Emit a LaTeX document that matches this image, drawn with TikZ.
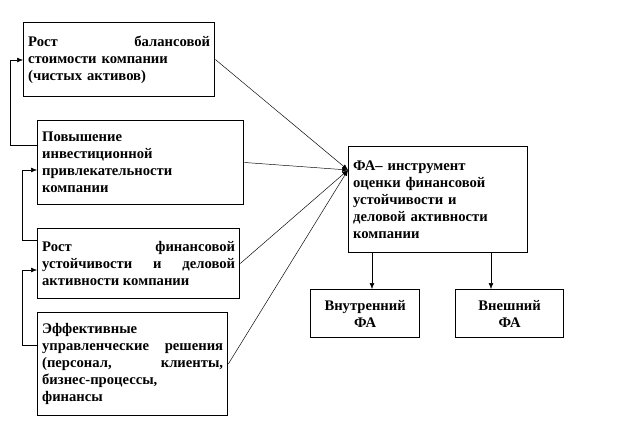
\documentclass[tikz,border=0pt]{standalone}
\usepackage{fontspec}
\setmainfont{Liberation Serif}
\usetikzlibrary{arrows.meta}
\tikzset{
	blok/.style={draw,thick,inner sep=4pt,font=\bfseries\fontsize{12.5}{14.5}\selectfont,align=justify,anchor=north west},
	strelka/.style={-{Latex[length=5pt,width=4pt]}}
}
\begin{document}
\begin{tikzpicture}[x=0.03cm,y=-0.03cm]
	% frame of the picture
	\useasboundingbox (0,0) rectangle (636,432);
	% left column
	\node[blok,text width=5.46cm,minimum height=2.22cm,align=left] (rost) at (23,22) {Рост\hfill балансовой\\ стоимости компании\\ (чистых активов)};
	\node[blok,text width=5.91cm,minimum height=2.52cm] (invest) at (37,120) {Повышение\\ инвестиционной\\ привлекательности\\ компании};
	\node[blok,text width=5.79cm,minimum height=2.1cm] (ust) at (37,228) {Рост финансовой устойчивости и деловой активности компании};
	\node[blok,text width=5.43cm,minimum height=3.09cm,align=left] (resh) at (37,312) {Эффективные\\ управленческие\hfill решения\\ (персонал,\hfill клиенты,\\ бизнес-процессы,\\ финансы};
	% right part
	\node[blok,text width=5.1cm,minimum height=3.18cm,align=left] (fa) at (348,146) {ФА– инструмент\\ оценки финансовой\\ устойчивости и\\ деловой активности\\ компании};
	\node[blok,text width=3.0cm,minimum height=1.44cm,align=center] (vnutr) at (310,289) {Внутренний\\ ФА};
	\node[blok,text width=2.97cm,minimum height=1.44cm,align=center] (vnesh) at (455,289) {Внешний\\ ФА};
	\coordinate (tochka) at (fa.west |- 0,170);
	% converging lines
	\foreach \b in {rost,invest,ust,resh}
		\draw[strelka] (\b.east) -- (tochka);
	\draw[strelka] (372,252) -- (372,289);
	\draw[strelka] (491,252) -- (491,289);
	% feedback loops on the left
	\draw[strelka] (37,145) -- (10,145) -- (10,60) -- (rost.west |- 0,60);
	\draw[strelka] (37,240) -- (22,240) -- (22,170) -- (invest.west |- 0,170);
	\draw[strelka] (37,345) -- (22,345) -- (22,270) -- (ust.west |- 0,270);
\end{tikzpicture}
\end{document}
